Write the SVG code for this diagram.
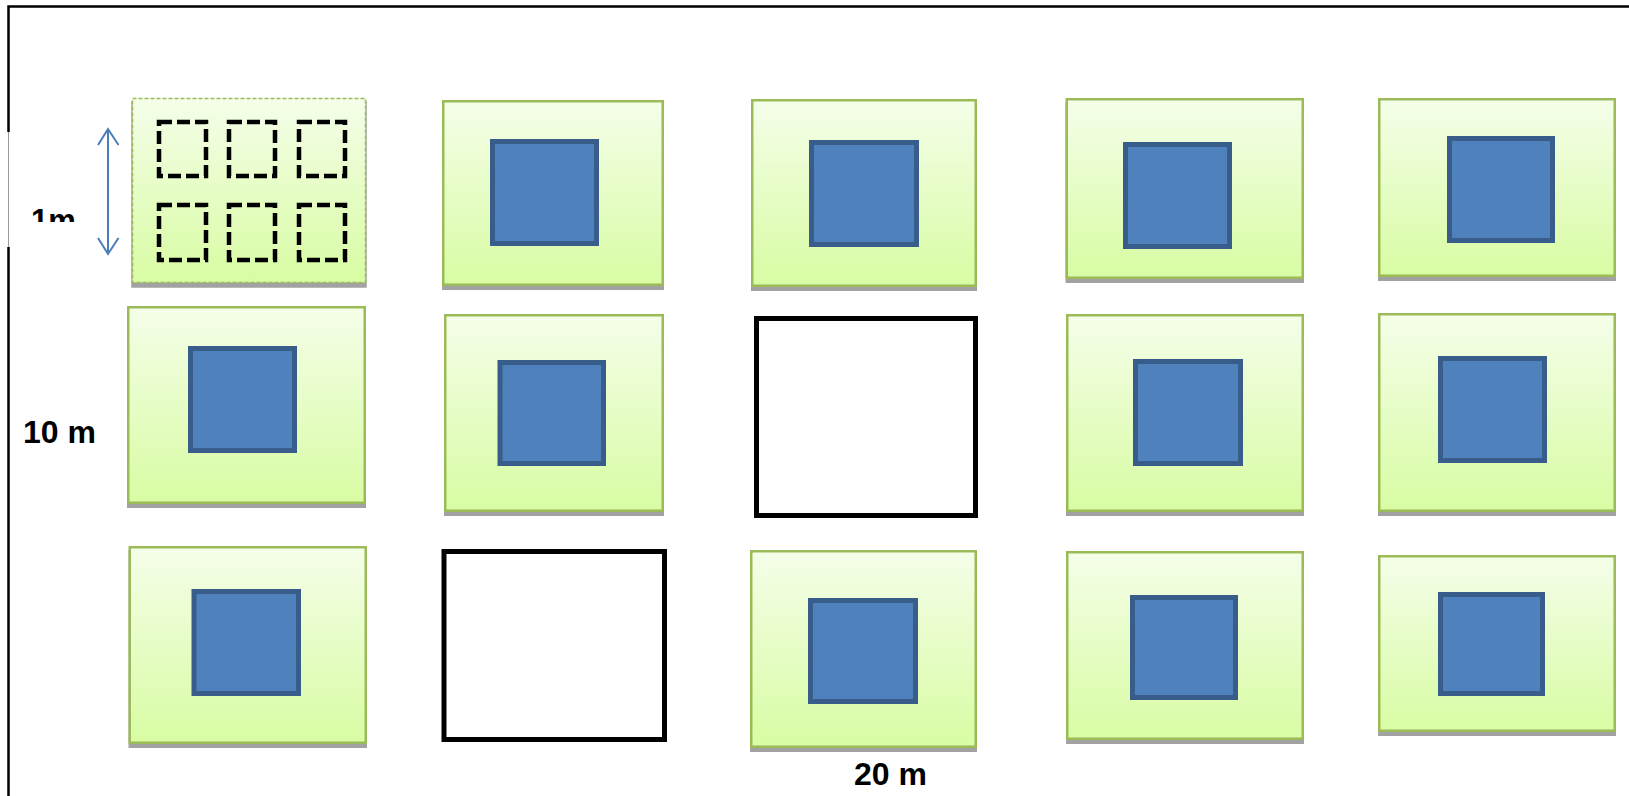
<svg xmlns="http://www.w3.org/2000/svg" width="1629" height="796" viewBox="0 0 1629 796">
<defs>
<linearGradient id="g" x1="0" y1="0" x2="0" y2="1">
<stop offset="0" stop-color="#f5fee9"/>
<stop offset="1" stop-color="#d8fca3"/>
</linearGradient>
<clipPath id="clip1m"><rect x="0" y="190" width="100" height="32"/></clipPath>
</defs>
<style>
.plot{fill:url(#g);stroke:#9bbb59;stroke-width:2.5}
.sh{fill:#a2a2a2;stroke:#a2a2a2;stroke-width:2.5}
.blue{fill:#4f81bd;stroke:#385d8a;stroke-width:5}
.empty{fill:#ffffff;stroke:#000000;stroke-width:5}
.dash{fill:url(#g);stroke:#9bbb59;stroke-width:1.5;stroke-dasharray:4 2}
.sq{fill:none;stroke:#000000;stroke-width:4.5;stroke-dasharray:13 5}
.lbl{font-family:"Liberation Sans",Arial,sans-serif;font-weight:bold;font-size:32px;fill:#000000}
.arr{fill:none;stroke:#4a7ebb;stroke-width:2}
</style>
<g id="frame">
<path d="M8.5 796 V247 M8.5 132 V6.5 H1629" fill="none" stroke="#000" stroke-width="2.5"/>
<line x1="8.5" y1="132" x2="8.5" y2="247" stroke="#999" stroke-width="1"/>
</g>
<g id="r1c1">
<rect class="sh" x="132.5" y="102.5" width="233" height="184"/>
<rect class="dash" x="132.5" y="98.5" width="233" height="184"/>
<rect class="sq" x="159" y="122" width="47" height="54"/>
<rect class="sq" x="229" y="122" width="46" height="54"/>
<rect class="sq" x="299" y="122" width="46" height="54"/>
<rect class="sq" x="159" y="205" width="47" height="55"/>
<rect class="sq" x="229" y="205" width="46" height="55"/>
<rect class="sq" x="299" y="205" width="46" height="55"/>
</g>
<g id="r1c2">
<rect class="sh" x="443.25" y="105.25" width="219.5" height="183.5"/>
<rect class="plot" x="443.25" y="101.25" width="219.5" height="183.5"/>
<rect class="blue" x="492.5" y="141.5" width="104" height="102"/>
</g>
<g id="r1c3">
<rect class="sh" x="752.25" y="104.25" width="223.5" height="185.5"/>
<rect class="plot" x="752.25" y="100.25" width="223.5" height="185.5"/>
<rect class="blue" x="811.5" y="142.5" width="105" height="102"/>
</g>
<g id="r1c4">
<rect class="sh" x="1066.75" y="103.25" width="236" height="178.5"/>
<rect class="plot" x="1066.75" y="99.25" width="236" height="178.5"/>
<rect class="blue" x="1125.5" y="144.5" width="104" height="102"/>
</g>
<g id="r1c5">
<rect class="sh" x="1379.25" y="103.25" width="235.5" height="176.5"/>
<rect class="plot" x="1379.25" y="99.25" width="235.5" height="176.5"/>
<rect class="blue" x="1449.5" y="138.5" width="103" height="102"/>
</g>
<g id="r2c1">
<rect class="sh" x="128.25" y="311.25" width="236.5" height="195.5"/>
<rect class="plot" x="128.25" y="307.25" width="236.5" height="195.5"/>
<rect class="blue" x="190.5" y="348.5" width="104" height="102"/>
</g>
<g id="r2c2">
<rect class="sh" x="445.25" y="319.25" width="217.5" height="195.5"/>
<rect class="plot" x="445.25" y="315.25" width="217.5" height="195.5"/>
<rect class="blue" x="500" y="362.5" width="103.5" height="101"/>
</g>
<g id="r2c3">
<rect class="empty" x="756.5" y="318.5" width="219" height="197"/>
</g>
<g id="r2c4">
<rect class="sh" x="1067.25" y="319.25" width="235.5" height="195.5"/>
<rect class="plot" x="1067.25" y="315.25" width="235.5" height="195.5"/>
<rect class="blue" x="1135.5" y="361.5" width="105" height="102"/>
</g>
<g id="r2c5">
<rect class="sh" x="1379.25" y="318.25" width="235.5" height="196.5"/>
<rect class="plot" x="1379.25" y="314.25" width="235.5" height="196.5"/>
<rect class="blue" x="1440.5" y="358.5" width="104" height="102"/>
</g>
<g id="r3c1">
<rect class="sh" x="129.75" y="551.25" width="236" height="195.5"/>
<rect class="plot" x="129.75" y="547.25" width="236" height="195.5"/>
<rect class="blue" x="194" y="591.5" width="104.5" height="102"/>
</g>
<g id="r3c2">
<rect class="empty" x="444" y="551.5" width="220.5" height="188"/>
</g>
<g id="r3c3">
<rect class="sh" x="751.25" y="555.25" width="224.5" height="195.5"/>
<rect class="plot" x="751.25" y="551.25" width="224.5" height="195.5"/>
<rect class="blue" x="810.5" y="600.5" width="105" height="101"/>
</g>
<g id="r3c4">
<rect class="sh" x="1067.25" y="556.25" width="235.5" height="186.5"/>
<rect class="plot" x="1067.25" y="552.25" width="235.5" height="186.5"/>
<rect class="blue" x="1132.5" y="597.5" width="103" height="100"/>
</g>
<g id="r3c5">
<rect class="sh" x="1379.25" y="560.25" width="235.5" height="174.5"/>
<rect class="plot" x="1379.25" y="556.25" width="235.5" height="174.5"/>
<rect class="blue" x="1440.5" y="594.5" width="102" height="99"/>
</g>
<g id="connectors">
<line class="arr" x1="108" y1="129" x2="108" y2="254"/>
<polyline class="arr" points="98,145 108,129 118.5,145"/>
<polyline class="arr" points="98,238 108,254 118.5,238"/>
</g>
<g id="labels">
<text class="lbl" x="31" y="231" clip-path="url(#clip1m)" style="font-size:31px">1m</text>
<text class="lbl" x="23" y="443">10 m</text>
<text class="lbl" x="854" y="785">20 m</text>
</g>
</svg>
